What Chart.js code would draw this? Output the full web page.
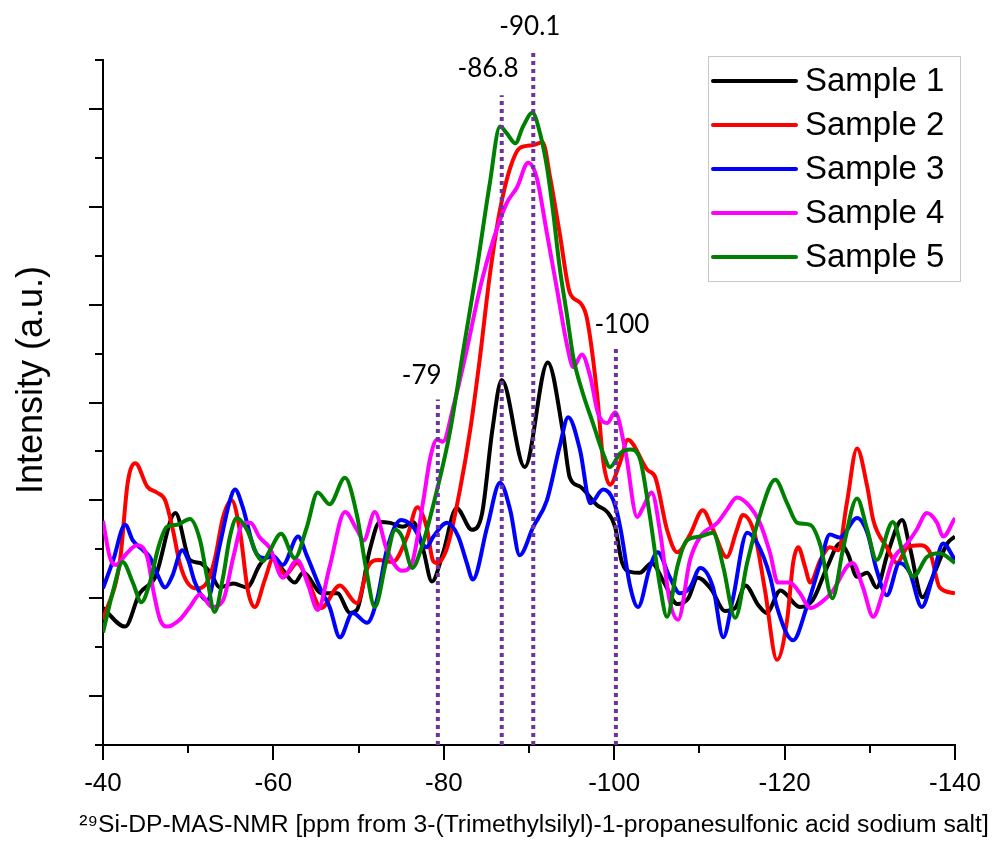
<!DOCTYPE html>
<html>
<head>
<meta charset="utf-8">
<script src="https://cdn.jsdelivr.net/npm/chart.js@4.4.0/dist/chart.umd.min.js"></script>
<style>
  html, body { margin: 0; padding: 0; background: #fff; }
  #wrap { width: 993px; height: 844px; }
</style>
</head>
<body>
<div id="wrap"><canvas id="myChart" width="993" height="844"></canvas></div>
<script>
// shift in ppm (x) vs intensity in arbitrary units (y)
const sampleNames = ['Sample 1', 'Sample 2', 'Sample 3', 'Sample 4', 'Sample 5']
const sampleColors = ['#000000', '#ff0000', '#0000ff', '#ff00ff', '#008000']

const sample1 = [[-40.0,14.0],[-42.6,12.1],[-44.3,15.5],[-46.1,17.1],[-48.5,23.7],[-50.2,18.9],[-51.4,18.6],[-52.6,17.6],[-53.7,16.1],[-55.3,16.5],[-56.9,16.1],[-58.4,18.4],[-59.6,19.4],[-61.1,17.9],[-62.5,16.6],[-63.5,17.6],[-65.7,15.5],[-67.5,15.5],[-69.0,13.5],[-69.8,13.8],[-71.3,19.9],[-72.5,22.8],[-73.7,22.7],[-75.2,22.3],[-76.4,22.8],[-77.6,19.9],[-78.6,16.7],[-79.9,19.6],[-81.5,24.2],[-83.3,22.0],[-84.5,23.7],[-85.7,32.2],[-86.8,37.3],[-89.5,28.4],[-92.2,39.1],[-94.0,31.9],[-94.8,27.3],[-96.0,26.4],[-98.0,24.5],[-99.2,23.8],[-100.1,22.3],[-100.9,18.7],[-101.9,17.7],[-103.0,17.6],[-104.4,18.6],[-105.8,16.7],[-107.4,14.4],[-108.7,15.0],[-109.8,17.1],[-111.4,15.9],[-113.0,13.7],[-114.2,14.0],[-115.4,16.3],[-116.9,14.3],[-117.9,13.5],[-119.5,15.8],[-121.8,14.1],[-123.3,14.8],[-125.0,18.2],[-126.5,20.6],[-127.4,19.6],[-128.5,17.2],[-129.7,17.6],[-130.8,16.1],[-132.1,19.6],[-133.8,23.0],[-134.7,20.2],[-136.2,15.1],[-137.4,17.2],[-139.1,20.6],[-140.0,21.3]]

const sample2 = [[-40.0,12.8],[-42.0,18.9],[-42.9,26.8],[-43.8,28.8],[-45.2,26.4],[-46.3,25.8],[-47.3,25.0],[-48.2,22.0],[-49.0,18.6],[-49.9,16.6],[-51.0,16.0],[-52.2,16.6],[-53.1,18.9],[-54.1,23.3],[-55.1,25.0],[-56.1,21.7],[-57.0,15.8],[-57.8,14.1],[-59.0,16.9],[-60.0,19.1],[-61.4,17.4],[-62.8,18.6],[-64.1,16.7],[-65.6,14.0],[-67.8,16.3],[-69.8,14.5],[-71.1,18.2],[-72.3,18.9],[-74.0,18.7],[-75.7,21.3],[-76.9,24.3],[-78.0,22.2],[-78.7,18.9],[-79.2,18.6],[-80.4,20.2],[-81.9,26.1],[-83.1,32.2],[-84.2,39.3],[-85.4,48.0],[-86.6,54.7],[-87.8,59.0],[-88.9,61.0],[-90.5,61.3],[-91.6,61.6],[-92.5,57.9],[-93.6,52.3],[-94.8,46.2],[-96.0,45.2],[-96.8,43.6],[-98.0,35.8],[-98.7,29.1],[-99.5,26.6],[-100.7,28.9],[-101.6,31.2],[-103.9,28.1],[-104.8,27.4],[-106.2,22.0],[-107.4,19.7],[-108.9,21.5],[-110.4,24.0],[-111.6,22.0],[-113.2,19.2],[-114.4,22.0],[-115.1,23.5],[-116.5,21.5],[-117.7,15.8],[-119.1,8.7],[-120.3,12.8],[-121.0,18.6],[-121.6,20.2],[-122.4,18.2],[-123.0,16.6],[-124.2,18.9],[-125.3,20.2],[-126.3,19.9],[-127.3,24.7],[-128.5,30.3],[-129.7,26.4],[-130.4,23.0],[-132.0,20.2],[-133.2,18.6],[-134.4,20.2],[-135.9,20.4],[-137.1,19.6],[-138.2,16.1],[-140.0,15.5]]

const sample3 = [[-40.0,16.0],[-41.2,18.9],[-42.6,22.5],[-43.5,20.9],[-44.7,19.9],[-45.5,19.2],[-46.3,17.6],[-47.3,16.1],[-48.1,17.2],[-49.3,19.9],[-50.0,18.9],[-50.8,16.6],[-52.2,14.8],[-53.7,20.4],[-54.9,25.0],[-55.5,26.1],[-56.4,24.3],[-57.8,19.9],[-59.0,19.1],[-60.0,19.3],[-61.1,18.4],[-62.9,21.3],[-63.9,19.4],[-65.6,15.8],[-66.6,14.1],[-67.8,11.0],[-69.3,13.5],[-71.0,12.5],[-72.2,15.0],[-73.3,19.9],[-75.0,23.0],[-76.4,22.3],[-78.0,20.2],[-78.7,21.2],[-80.4,22.7],[-81.7,21.3],[-82.7,18.6],[-83.4,16.9],[-85.1,22.3],[-86.6,26.8],[-87.8,24.0],[-88.9,19.4],[-90.5,22.3],[-92.1,25.0],[-93.6,30.5],[-94.6,33.5],[-96.0,30.1],[-97.2,24.7],[-98.7,26.1],[-99.9,25.0],[-100.7,22.3],[-101.9,16.1],[-102.8,14.1],[-104.2,18.2],[-105.1,19.7],[-106.5,17.2],[-107.7,15.5],[-108.9,16.1],[-110.1,18.1],[-111.6,16.1],[-112.8,11.0],[-113.9,14.8],[-115.6,21.7],[-116.8,20.6],[-118.3,17.2],[-119.1,14.1],[-121.0,10.7],[-122.6,14.1],[-124.2,18.6],[-125.3,21.5],[-126.5,21.2],[-128.5,23.2],[-129.7,21.7],[-130.8,17.9],[-132.0,15.3],[-133.5,18.6],[-134.7,17.6],[-136.1,14.1],[-137.4,17.2],[-138.6,20.6],[-140.0,18.9]]

const sample4 = [[-40.0,22.9],[-40.8,19.2],[-41.5,18.4],[-42.8,19.6],[-44.0,20.4],[-45.2,19.2],[-45.9,15.8],[-46.7,12.8],[-47.5,12.1],[-49.0,12.8],[-50.2,14.1],[-51.4,15.4],[-52.8,14.1],[-54.1,14.8],[-55.3,19.2],[-56.4,22.6],[-57.3,22.7],[-58.4,21.2],[-59.6,20.1],[-61.1,17.1],[-62.8,18.9],[-64.1,16.3],[-65.2,13.8],[-66.6,18.2],[-68.4,23.8],[-69.8,22.0],[-70.6,20.9],[-71.9,23.8],[-73.3,20.0],[-75.1,17.8],[-76.3,18.7],[-77.6,25.0],[-78.4,29.3],[-79.2,31.2],[-79.9,31.0],[-81.1,34.5],[-82.7,40.4],[-84.2,46.5],[-85.8,51.6],[-87.4,55.4],[-88.6,57.0],[-89.9,59.5],[-90.9,58.0],[-92.1,52.3],[-93.3,46.5],[-94.5,40.7],[-95.2,38.6],[-96.2,39.9],[-97.2,37.6],[-98.1,33.9],[-99.2,32.9],[-100.1,34.0],[-101.3,30.1],[-102.7,23.3],[-103.4,24.3],[-104.4,25.8],[-105.4,21.7],[-106.5,14.8],[-107.5,12.8],[-108.9,18.9],[-110.1,21.3],[-112.1,22.7],[-113.2,24.0],[-114.4,25.3],[-115.9,24.4],[-117.1,22.7],[-118.3,19.6],[-119.2,16.6],[-120.6,16.6],[-121.8,15.5],[-123.0,14.0],[-124.2,14.5],[-125.7,15.8],[-127.3,18.2],[-128.0,18.6],[-129.2,16.1],[-130.4,13.1],[-131.5,15.5],[-132.7,18.9],[-134.4,20.6],[-135.5,22.0],[-136.7,23.7],[-137.9,22.7],[-138.6,21.3],[-140.0,23.2]]

const sample5 = [[-40.0,11.5],[-41.2,15.8],[-42.3,18.7],[-43.5,16.6],[-44.5,14.6],[-45.5,16.6],[-46.5,20.2],[-47.5,22.3],[-48.7,22.5],[-50.2,23.1],[-51.4,20.9],[-52.2,17.2],[-53.1,13.6],[-54.1,17.2],[-54.9,21.3],[-55.7,23.2],[-56.9,22.0],[-58.1,19.4],[-58.8,18.8],[-59.6,19.9],[-60.9,21.6],[-62.5,19.1],[-63.9,22.2],[-65.2,25.8],[-66.6,24.6],[-68.4,27.3],[-69.8,23.5],[-70.9,17.9],[-71.9,14.1],[-73.2,18.6],[-74.3,22.0],[-75.1,21.3],[-76.3,18.1],[-77.4,20.2],[-78.7,24.3],[-80.7,31.9],[-82.3,40.4],[-83.9,48.8],[-85.4,57.4],[-86.6,63.2],[-87.4,62.5],[-88.4,61.5],[-89.3,63.2],[-90.4,64.6],[-91.3,62.5],[-92.1,59.1],[-92.8,54.7],[-93.6,48.8],[-94.5,43.7],[-95.2,39.6],[-96.3,36.0],[-97.5,32.9],[-98.7,29.8],[-99.5,28.4],[-100.7,29.8],[-101.9,30.2],[-103.0,29.3],[-104.2,23.3],[-105.4,16.1],[-106.2,13.1],[-107.4,18.2],[-108.5,20.9],[-110.1,21.3],[-111.6,21.7],[-112.8,18.2],[-114.2,13.0],[-115.6,18.6],[-117.1,23.5],[-118.9,27.1],[-120.3,24.7],[-121.5,22.7],[-123.0,22.5],[-124.2,20.4],[-125.6,15.0],[-126.9,20.2],[-128.5,25.2],[-129.7,22.0],[-130.8,18.9],[-132.7,22.8],[-133.9,19.6],[-135.1,17.2],[-136.7,19.2],[-138.2,19.6],[-140.0,18.6]]

// dotted peak markers
const markerPpm = [-79.3, -86.8, -90.5, -100.2]
const markerTop = [35.3, 66.4, 70.8, 40.5]
const markerText = ['-79', '-86.8', '-90.1', '-100']
const markerTextX = [-77.4, -85.2, -90.1, -100.9]
const markerTextY = [37.7, 69.1, 73.4, 43.0]

const xTitle = '\u00B2\u2079Si-DP-MAS-NMR [ppm from 3-(Trimethylsilyl)-1-propanesulfonic acid sodium salt]'
const yTitle = 'Intensity (a.u.)'

const arial = "'Liberation Sans', Arial, sans-serif"
const allSamples = [sample1, sample2, sample3, sample4, sample5]

const sampleSets = allSamples.map((s, i) => ({
  label: sampleNames[i],
  data: s.map(p => ({ x: p[0], y: p[1] })),
  borderColor: sampleColors[i],
  backgroundColor: sampleColors[i],
  borderWidth: 4,
  pointRadius: 0,
  cubicInterpolationMode: 'monotone',
  order: 5 - i
}))

const markerSets = markerPpm.map((x, i) => ({
  label: 'marker ' + markerText[i],
  data: [{ x: x, y: 0 }, { x: x, y: markerTop[i] }],
  borderColor: '#7030a0',
  borderWidth: 4,
  borderDash: [4, 4],
  borderCapStyle: 'butt',
  pointRadius: 0,
  clip: false,
  order: 0
}))

// tick marks with two lengths (labelled / unlabelled)
const tickMarks = {
  id: 'tickMarks',
  afterDraw(chart) {
    const ctx = chart.ctx
    const xs = chart.scales.x
    const ys = chart.scales.y
    ctx.save()
    ctx.strokeStyle = '#000'
    ctx.lineWidth = 2
    ctx.beginPath()
    xs.ticks.forEach(t => {
      const px = Math.round(xs.getPixelForValue(t.value))
      const len = t.value % 20 === 0 ? 15 : 8
      ctx.moveTo(px, xs.top)
      ctx.lineTo(px, xs.top + len)
    })
    ys.ticks.forEach(t => {
      const py = Math.round(ys.getPixelForValue(t.value))
      const len = Math.abs(t.value % 10) === 5 ? 14 : 8
      ctx.moveTo(ys.right, py)
      ctx.lineTo(ys.right - len, py)
    })
    ctx.stroke()
    ctx.restore()
  }
}

const peakLabels = {
  id: 'peakLabels',
  afterDatasetsDraw(chart) {
    const ctx = chart.ctx
    const xs = chart.scales.x
    const ys = chart.scales.y
    ctx.save()
    ctx.fillStyle = '#000'
    ctx.font = "26px Lato, 'Open Sans', sans-serif"
    ctx.textAlign = 'center'
    ctx.textBaseline = 'middle'
    markerText.forEach((txt, i) => {
      ctx.fillText(txt, xs.getPixelForValue(markerTextX[i]), ys.getPixelForValue(markerTextY[i]))
    })
    // x axis title (wider than the plot, so drawn here)
    ctx.font = '24.7px ' + arial
    ctx.fillText(xTitle, 534, 825)
    // y axis title
    ctx.font = '36px ' + arial
    ctx.translate(32, 380)
    ctx.rotate(-Math.PI / 2)
    ctx.fillText(yTitle, 0, 0)
    ctx.restore()
  }
}

const boxLegend = {
  id: 'boxLegend',
  afterDraw(chart) {
    const ctx = chart.ctx
    ctx.save()
    ctx.fillStyle = '#fff'
    ctx.fillRect(708, 56, 252, 225)
    ctx.strokeStyle = '#c8c8c8'
    ctx.lineWidth = 1
    ctx.strokeRect(708.5, 56.5, 252, 225)
    ctx.font = '33px ' + arial
    ctx.textBaseline = 'middle'
    ctx.textAlign = 'left'
    sampleNames.forEach((name, i) => {
      const y = 81 + i * 44
      ctx.strokeStyle = sampleColors[i]
      ctx.lineWidth = 4
      ctx.lineCap = 'round'
      ctx.beginPath()
      ctx.moveTo(713, y)
      ctx.lineTo(796, y)
      ctx.stroke()
      ctx.fillStyle = '#000'
      ctx.fillText(name, 805, y + 1)
    })
    ctx.restore()
  }
}

const config = {
  type: 'line',
  data: { datasets: [...sampleSets, ...markerSets] },
  options: {
    responsive: false,
    devicePixelRatio: 1,
    animation: false,
    layout: { padding: { top: 60, right: 38, left: 0, bottom: 0 } },
    plugins: {
      legend: { display: false },
      tooltip: { enabled: false }
    },
    scales: {
      x: {
        type: 'linear',
        min: -140,
        max: -40,
        reverse: true,
        afterFit: function (scale) {
          scale.height = 99
          scale.paddingLeft = 0
          scale.paddingRight = 0
        },
        border: { display: true, color: '#000', width: 2 },
        grid: { display: false, drawTicks: false },
        ticks: {
          stepSize: 10,
          autoSkip: false,
          maxRotation: 0,
          padding: 23,
          color: '#000',
          font: { family: arial, size: 26 },
          callback: function (value) {
            return value % 20 === 0 ? String(value) : ''
          }
        }
      },
      y: {
        type: 'linear',
        min: 0,
        max: 70,
        afterFit: function (scale) { scale.width = 103 },
        border: { display: true, color: '#000', width: 2 },
        grid: { display: false, drawTicks: false },
        ticks: { display: false, stepSize: 5 }
      }
    }
  },
  plugins: [tickMarks, peakLabels, boxLegend]
}

new Chart(document.getElementById('myChart'), config)
</script>
</body>
</html>
